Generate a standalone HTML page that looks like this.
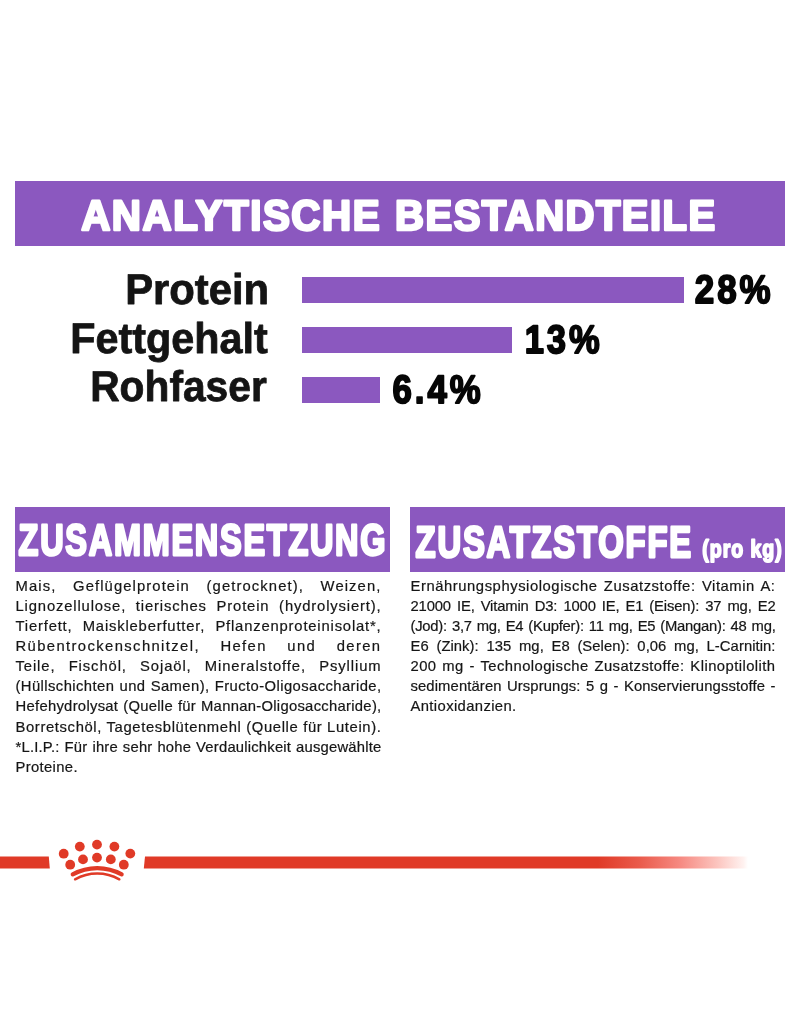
<!DOCTYPE html>
<html lang="de">
<head>
<meta charset="utf-8">
<title>Analytische Bestandteile</title>
<style>
html,body{margin:0;padding:0;background:#fff;}
body{width:800px;height:1012px;position:relative;overflow:hidden;font-family:"Liberation Sans",sans-serif;color:#111;}
.abs{position:absolute;}
#big{z-index:5;}
.box{position:absolute;background:#8b58bf;}
.bar{position:absolute;background:#8b58bf;height:26px;left:302px;}
.para{position:absolute;font-size:14.8px;line-height:20.14px;color:#161616;-webkit-text-stroke:0.2px #161616;}
.para div{white-space:nowrap;text-align:justify;text-align-last:justify;}
.para div.l{text-align:left;text-align-last:left;}
</style>
</head>
<body>

<div class="box" style="left:15px;top:181px;width:770px;height:65px;"></div>

<div class="bar" style="top:277px;width:382px;"></div>

<div class="bar" style="top:327px;width:210px;"></div>

<div class="bar" style="top:377px;width:78px;"></div>


<svg class="abs" id="big" style="left:0;top:0;" text-rendering="geometricPrecision" width="800" height="800" viewBox="0 0 800 800" font-family="'Liberation Sans',sans-serif" font-weight="bold">
<g fill="#fff" stroke="#fff" stroke-width="2.6" stroke-linejoin="round" letter-spacing="1.6">
<text id="h1a" x="81.2" y="230" font-size="42.6" textLength="299.9" lengthAdjust="spacingAndGlyphs">ANALYTISCHE</text>
<text id="h1b" x="395.1" y="230" font-size="42.6" textLength="321.6" lengthAdjust="spacingAndGlyphs">BESTANDTEILE</text>
</g>
<g fill="#fff" stroke="#fff" stroke-width="2.8" stroke-linejoin="round" letter-spacing="2.4">
<text id="h2" x="18.6" y="555" font-size="43.8" textLength="368.7" lengthAdjust="spacingAndGlyphs">ZUSAMMENSETZUNG</text>
<text id="h3" x="415.6" y="556.65" font-size="43.8" textLength="277.4" lengthAdjust="spacingAndGlyphs">ZUSATZSTOFFE</text>
</g>
<g fill="#fff" stroke="#fff" stroke-width="1.9" stroke-linejoin="round" letter-spacing="1.2">
<text id="h4" x="702.3" y="556.6" font-size="24.2" textLength="80.4" lengthAdjust="spacingAndGlyphs">(pro kg)</text>
</g>
<g fill="#141414" stroke="#141414" stroke-width="0.8" stroke-linejoin="round" font-size="43">
<text id="l1" x="125.2" y="303.6" textLength="143.9" lengthAdjust="spacingAndGlyphs">Protein</text>
<text id="l2" x="70.2" y="352.6" textLength="197.5" lengthAdjust="spacingAndGlyphs">Fettgehalt</text>
<text id="l3" x="90.2" y="400.85" textLength="176.6" lengthAdjust="spacingAndGlyphs">Rohfaser</text>
</g>
<g fill="#060606" stroke="#060606" stroke-width="1.9" stroke-linejoin="round" font-size="39.7" letter-spacing="3.4">
<text id="v1" x="694.7" y="303.1" textLength="79.0" lengthAdjust="spacingAndGlyphs">28%</text>
<text id="v2" x="524.7" y="353.1" textLength="78.0" lengthAdjust="spacingAndGlyphs">13%</text>
<text id="v3" x="392.4" y="403.1" textLength="91.3" lengthAdjust="spacingAndGlyphs">6.4%</text>
</g>
</svg>

<div class="box" style="left:15px;top:507px;width:375px;height:64.5px;"></div>

<div class="box" style="left:410px;top:507px;width:375px;height:64.5px;"></div>

<div class="para" id="p1" style="left:15.5px;top:575.55px;width:366px;">
<div style="letter-spacing:1.1px">Mais, Geflügelprotein (getrocknet), Weizen,</div>
<div style="letter-spacing:0.85px">Lignozellulose, tierisches Protein (hydrolysiert),</div>
<div style="letter-spacing:0.82px">Tierfett, Maiskleberfutter, Pflanzenproteinisolat*,</div>
<div style="letter-spacing:1.39px">Rübentrockenschnitzel, Hefen und deren</div>
<div style="letter-spacing:0.9px">Teile, Fischöl, Sojaöl, Mineralstoffe, Psyllium</div>
<div style="letter-spacing:0.42px">(Hüllschichten und Samen), Fructo-Oligosaccharide,</div>
<div style="letter-spacing:0.29px">Hefehydrolysat (Quelle für Mannan-Oligosaccharide),</div>
<div style="letter-spacing:0.63px">Borretschöl, Tagetesblütenmehl (Quelle für Lutein).</div>
<div style="letter-spacing:0.21px">*L.I.P.: Für ihre sehr hohe Verdaulichkeit ausgewählte</div>
<div class="l" style="letter-spacing:0.35px">Proteine.</div>
</div>

<div class="para" id="p2" style="left:410.5px;top:575.55px;width:365px;">
<div style="letter-spacing:0.56px">Ernährungsphysiologische Zusatzstoffe: Vitamin A:</div>
<div style="letter-spacing:-0.15px">21000 IE, Vitamin D3: 1000 IE, E1 (Eisen): 37 mg, E2</div>
<div style="letter-spacing:-0.24px">(Jod): 3,7 mg, E4 (Kupfer): 11 mg, E5 (Mangan): 48 mg,</div>
<div style="letter-spacing:0.06px">E6 (Zink): 135 mg, E8 (Selen): 0,06 mg, L-Carnitin:</div>
<div style="letter-spacing:0.44px">200 mg - Technologische Zusatzstoffe: Klinoptilolith</div>
<div style="letter-spacing:0.12px">sedimentären Ursprungs: 5 g - Konservierungsstoffe -</div>
<div class="l" style="letter-spacing:0.38px">Antioxidanzien.</div>
</div>

<svg class="abs" style="left:0;top:830px;" width="800" height="70" viewBox="0 830 800 70">
<defs>
<linearGradient id="fade" gradientUnits="userSpaceOnUse" x1="598" x2="748" y1="0" y2="0">
<stop offset="0" stop-color="#e03a27"/>
<stop offset="0.28" stop-color="#ea5b4c"/>
<stop offset="0.55" stop-color="#f68a82"/>
<stop offset="0.8" stop-color="#fcc6c0"/>
<stop offset="0.97" stop-color="#fff2f0"/>
<stop offset="1" stop-color="#ffffff"/>
</linearGradient>
</defs>
<polygon points="0,856.5 48.8,856.5 49.8,868.5 0,868.5" fill="#e03a27"/>
<polygon points="145,856.5 750,856.5 750,868.6 143.8,868.6" fill="url(#fade)"/>
<g fill="#e03a27">
<circle cx="63.7" cy="853.7" r="4.9"/>
<circle cx="79.8" cy="846.6" r="4.9"/>
<circle cx="97" cy="844.6" r="4.9"/>
<circle cx="114.4" cy="846.6" r="4.9"/>
<circle cx="130.3" cy="853.6" r="4.9"/>
<circle cx="70.2" cy="864.7" r="4.9"/>
<circle cx="83" cy="859.4" r="4.9"/>
<circle cx="97" cy="857.6" r="4.9"/>
<circle cx="110.8" cy="859.4" r="4.9"/>
<circle cx="123.8" cy="864.7" r="4.9"/>
</g>
<path d="M72.7 874.4 A50.8 50.8 0 0 1 121.7 874.4" fill="none" stroke="#e03a27" stroke-width="4.1" stroke-linecap="round"/>
<path d="M75.1 879.3 A45 45 0 0 1 119.3 879.3" fill="none" stroke="#e03a27" stroke-width="2.5" stroke-linecap="round"/>
</svg>

</body>
</html>
